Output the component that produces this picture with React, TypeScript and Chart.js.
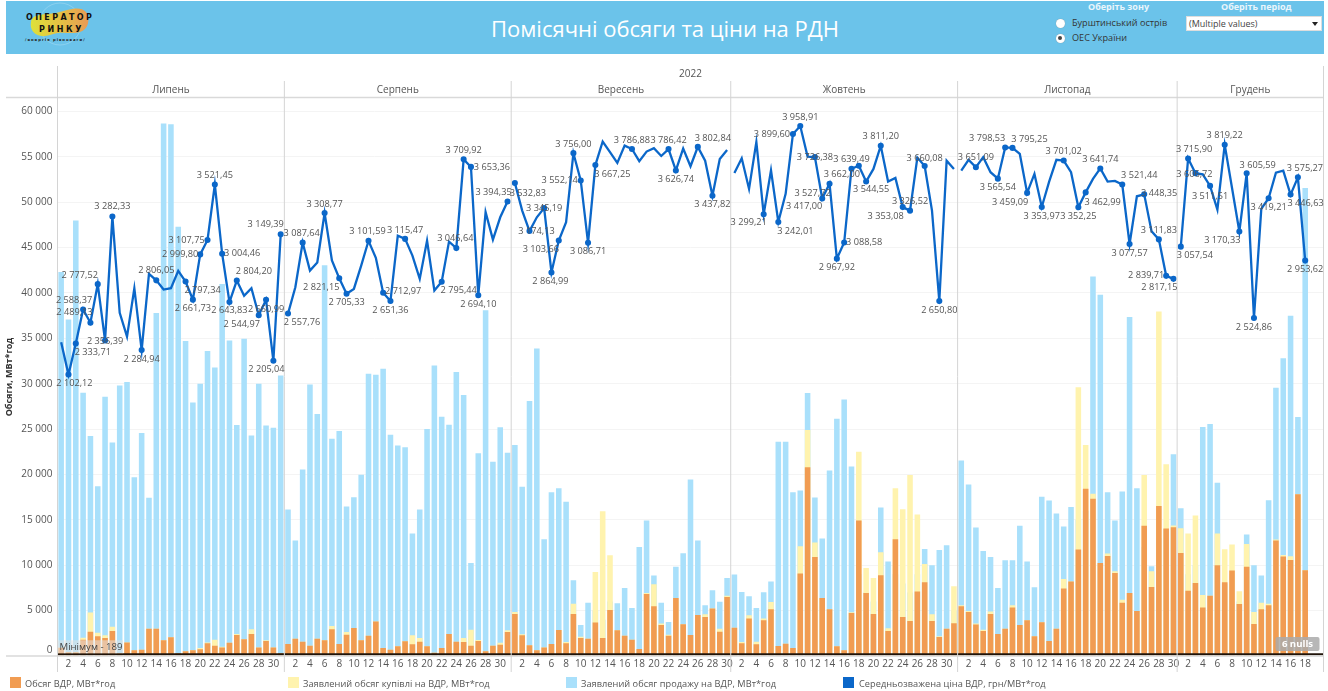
import React, { useEffect, useRef } from "react";
import { Chart, registerables } from "chart.js";

Chart.register(...registerables);

const TITLE = "Помісячні обсяги та ціни на РДН";
const YEAR = "2022";
const monthNames = ["Липень", "Серпень", "Вересень", "Жовтень", "Листопад", "Грудень"];
const monthSlots = [31, 31, 30, 31, 30, 20];
const yTicks = [0, 5000, 10000, 15000, 20000, 25000, 30000, 35000, 40000, 45000, 50000, 55000, 60000];

const seriesNames = [
  "Обсяг ВДР, МВт*год",
  "Заявлений обсяг купівлі на ВДР, МВт*год",
  "Заявлений обсяг продажу на ВДР, МВт*год",
  "Середньозважена ціна ВДР, грн/МВт*год",
];
const seriesColors = ["#F19C52", "#FFF3AE", "#A9E0FB", "#0B67C9"];

const volumeJul = [900, 400, 400, 1800, 2680, 2170, 1980, 2750, 300, 1500, 620, 700, 3000, 3000, 1730, 2060, 300, 510, 620, 730, 1400, 1140, 950, 1470, 2300, 1840, 2420, 950, 1650, 950, 300];
const volumeAug = [1320, 1900, 1580, 1140, 1900, 1730, 2940, 1320, 2350, 3090, 1730, 2240, 3790, 880, 700, 1070, 1620, 1290, 1580, 1070, 370, 880, 2430, 1580, 1540, 1140, 1650, 510, 1140, 1250, 2650];
const volumeSep = [4630, 2280, 1180, 625, 950, 1320, 2870, 1400, 4630, 1985, 1910, 3680, 1985, 5070, 2830, 2240, 1800, 770, 6840, 5480, 3420, 2240, 6400, 3490, 2320, 4520, 4300, 5220, 2680, 6500];
const volumeOct = [3125, 1400, 4120, 1290, 3930, 5150, 1100, 1360, 880, 9080, 20800, 10920, 6400, 5150, 1070, 625, 4740, 14930, 6950, 4630, 8900, 2760, 12870, 4300, 3860, 7100, 8125, 3860, 2100, 3015, 3600];
const volumeNov = [5480, 4850, 3460, 2760, 4630, 2430, 3015, 5330, 3420, 3930, 2170, 3710, 1650, 3015, 7430, 8200, 11730, 18420, 17320, 10260, 11030, 9150, 5880, 6950, 4960, 14340, 7610, 16540, 14040, 14190];
const volumeDec = [11360, 7200, 8050, 5330, 6650, 10000, 8125, 9410, 5735, 9820, 3530, 5150, 5590, 12720, 10960, 10590, 17830, 9450];

const buyJul = [900, 400, 400, 2000, 4780, 2570, 2280, 3230, 300, 1500, 620, 700, 3000, 3000, 1730, 2060, 300, 510, 620, 880, 1500, 1800, 1030, 1470, 2420, 1840, 2940, 950, 1730, 950, 300];
const buyAug = [1320, 1900, 1580, 1140, 1900, 1730, 3300, 1320, 2650, 3090, 1730, 2240, 3790, 880, 700, 1070, 1620, 2280, 1985, 1070, 370, 880, 2430, 1580, 1985, 2900, 1765, 510, 1140, 1470, 2830];
const buySep = [4850, 2390, 1180, 625, 950, 1320, 2870, 1545, 5770, 2130, 1910, 9260, 15955, 11100, 2830, 2240, 1800, 770, 6950, 7900, 3570, 2350, 6400, 3490, 2320, 4520, 4600, 5220, 3010, 6650];
const buyOct = [3125, 1545, 4490, 1580, 4120, 5960, 1100, 1360, 880, 12100, 24890, 12500, 6400, 5150, 1070, 625, 4820, 22500, 9700, 8600, 11430, 3050, 18490, 16180, 19930, 15590, 10150, 4600, 2170, 3015, 7680];
const buyNov = [5590, 4960, 3570, 2900, 4890, 2430, 3015, 5590, 3420, 3930, 2170, 3710, 1650, 3015, 8490, 8200, 29600, 23235, 17870, 10260, 11290, 9340, 6210, 6950, 4960, 19930, 9340, 37950, 21140, 14380];
const buyDec = [14080, 13490, 15480, 6730, 6650, 13490, 11760, 12280, 7130, 12350, 4850, 5880, 5770, 12830, 11140, 11000, 17830, 9450];

const sellJul = [42300, 37070, 47970, 29000, 24230, 18700, 28570, 23530, 29800, 30200, 19700, 24560, 17430, 37800, 58680, 58600, 47300, 34700, 27940, 30000, 33600, 31800, 41000, 34750, 25440, 34950, 24300, 30000, 25400, 25150, 30900];
const sellAug = [16140, 12720, 20550, 29900, 26650, 43050, 23930, 24780, 16470, 17500, 19960, 31100, 31000, 31650, 24375, 23200, 23000, 13490, 16140, 25000, 32000, 26360, 25480, 31300, 28750, 10260, 22350, 38100, 21400, 25200, 22400];
const sellSep = [23235, 18640, 28090, 33880, 12870, 18050, 18490, 16985, 8345, 3420, 5880, 5000, 4000, 6000, 5810, 7500, 5290, 12020, 14930, 8860, 5880, 3750, 9820, 11320, 19450, 12720, 5590, 7240, 5990, 8600];
const sellOct = [8970, 7060, 6580, 5290, 7020, 8200, 23600, 23600, 18050, 18235, 28970, 17460, 12940, 20440, 26140, 28270, 20880, 9000, 7000, 6000, 16360, 10400, 9000, 8000, 7000, 9000, 11800, 10000, 11690, 12200, 5000];
const sellNov = [21540, 18900, 14150, 11580, 10920, 7500, 10550, 10550, 14340, 10400, 7570, 17540, 17130, 15700, 14265, 16430, 15000, 16000, 41800, 39800, 18050, 14930, 18125, 37360, 18490, 12000, 9890, 13000, 14000, 22240];
const sellDec = [16290, 9000, 10000, 25220, 25550, 19080, 8000, 9000, 6000, 13380, 10000, 8860, 17170, 29550, 32800, 37500, 26320, 51560];

const priceJul = [2343.7, 2102.12, 2333.71, 2588.37, 2489.13, 2777.52, 2356.39, 3282.33, 2563, 2386, 2747, 2284.94, 2855, 2806.05, 2737, 2747, 2877, 2797.34, 2661.73, 2999.8, 3107.75, 3521.45, 3004.46, 2643.83, 2804.2, 2690, 2747, 2544.97, 2660.99, 2205.04, 3149.39];
const priceAug = [2557.76, 2754, 3087.64, 2879, 2939, 3308.77, 2954, 2821.15, 2705.33, 2742, 2916, 3101.59, 2974, 2712.97, 2651.36, 3140, 3115.47, 2991, 2817, 3103, 2730, 2795.44, 3095, 3046.64, 3709.92, 3653.36, 2694.1, 3315, 3110, 3277, 3394.35];
const priceSep = [3532.83, 3327, 3174.13, 3277, 3345.19, 2864.99, 3103.66, 3240, 3756, 3552.14, 3086.71, 3667.25, 3843, 3763, 3683, 3812, 3786.88, 3696, 3768, 3793, 3735, 3786.42, 3626.74, 3790, 3658, 3802.84, 3700, 3437.82, 3713, 3780];
const priceOct = [3608, 3718, 3489, 3840, 3299.21, 3628, 3242.01, 3452, 3899.6, 3958.91, 3730, 3726.38, 3417, 3527.72, 2967.92, 3088.58, 3639.49, 3662, 3544.55, 3638, 3811.2, 3544, 3571, 3353.08, 3326.52, 3723, 3660.08, 3327, 2650.8, 3700, 3638];
const priceNov = [3626, 3706, 3651.09, 3726, 3614, 3565.54, 3798.53, 3795.25, 3750, 3459.09, 3601, 3353.97, 3541, 3706, 3701.02, 3614, 3352.25, 3462.99, 3564, 3641.74, 3544, 3549, 3521.44, 3077.57, 3434, 3448.35, 3173, 3111.83, 2839.71, 2817.15];
const priceDec = [3057.54, 3715.9, 3606.72, 3598, 3511.51, 3334, 3819.22, 3496, 3170.33, 3605.59, 2524.86, 3340, 3419.21, 3611, 3626, 3446.63, 3575.27, 2953.62];

// Days whose price is labelled, with the label's offset from its point: [day, dx, dy]
const labelsJul = [[2, 6, 9], [3, 17, 9], [4, -9, -9], [5, -16, -10], [6, -18, -9], [7, 0, 1], [8, 0, -10], [12, 0, 9], [14, 0, -10], [18, 17, 9], [19, 0, 9], [20, -20, 0], [21, -21, 0], [22, 0, -9], [23, 20, 0], [24, 0, 8], [25, 17, -9], [28, -17, 9], [29, 0, 10], [30, -7, 9], [31, -15, -10]];
const labelsAug = [[1, 14, 9], [3, -1, -9], [6, 0, -9], [8, -18, 9], [9, 0, 9], [12, -1, -9], [14, 20, -1], [15, 0, 9], [17, 0, -9], [22, 17, 9], [24, -1, -10], [25, 0, -9], [26, 21, 0], [27, 0, 9], [31, -14, -9]];
const labelsSep = [[1, 13, 10], [3, 7, 0], [5, 0, 0], [6, -1, 9], [7, -18, 9], [9, 0, -9], [10, -21, 0], [11, 0, 9], [12, 17, 9], [17, 0, -9], [22, 0, -9], [23, 0, 9], [26, 15, -9], [28, 0, 9]];
const labelsOct = [[5, -15, 8], [7, 17, 9], [9, -21, 0], [10, 0, -9], [12, 0, 0], [13, -18, 8], [14, -17, 10], [15, 0, 9], [16, 20, 0], [17, 0, -9], [18, -17, 9], [19, 5, 8], [21, 0, -9], [24, -17, 9], [25, 0, -9], [27, 0, -8], [29, 0, 9]];
const labelsNov = [[3, 0, -10], [6, 0, 9], [7, -18, -9], [8, 17, -9], [10, -17, 9], [12, 0, 9], [15, 0, -9], [17, 0, 9], [18, 17, 10], [20, 0, -9], [23, 17, -9], [24, 0, 9], [26, 15, -1], [28, 0, -9], [29, -20, 0], [30, -14, 9]];
const labelsDec = [[1, 14, 9], [2, 6, -9], [3, -1, 1], [5, 0, 10], [7, 0, -9], [9, -17, 9], [10, 11, -8], [11, 0, 9], [13, 0, 9], [16, 15, 9], [17, 7, -9], [18, 0, 9]];

const MINIMUM_VALUE = 189;
const MINIMUM_TEXT = "Мінімум - 189";
const NULLS_TEXT = "6 nulls";

const FONT = "'Open Sans', sans-serif";

const monthStarts: number[] = [];
const days: string[] = [];
monthSlots.forEach((n, m) => {
  monthStarts[m] = days.length;
  for (let d = 1; d <= n; d++) {
    const shown = d % 2 === 0 && !(m === monthSlots.length - 1 && d > 18);
    days.push(shown ? String(d) : "");
  }
});
const labels = days.map((_, i) => `slot ${i}`);

const volume = [...volumeJul, ...volumeAug, ...volumeSep, ...volumeOct, ...volumeNov, ...volumeDec];
const buy = [...buyJul, ...buyAug, ...buySep, ...buyOct, ...buyNov, ...buyDec];
const sell = [...sellJul, ...sellAug, ...sellSep, ...sellOct, ...sellNov, ...sellDec];
const price = [...priceJul, ...priceAug, ...priceSep, ...priceOct, ...priceNov, ...priceDec];

const labelTable = new Map<number, number[]>();
[labelsJul, labelsAug, labelsSep, labelsOct, labelsNov, labelsDec].forEach((list, m) =>
  list.forEach(([day, dx, dy]) => labelTable.set(monthStarts[m] + day - 1, [dx, dy]))
);

const fmtThousands = (v: number) => String(v).replace(/\B(?=(\d{3})+$)/g, " ");
const fmtPrice = (v: number) => {
  const [a, b] = v.toFixed(2).split(".");
  return `${fmtThousands(Number(a))},${b}`;
};

const panelPlugin = {
  id: "panel",
  afterDraw(chart: any) {
    const { ctx, scales } = chart;
    const x = scales.x;
    const y = scales.y;
    const price = scales.price;
    const left = chart.chartArea.left;
    const right = chart.chartArea.right;
    const top = chart.chartArea.top;
    const bottom = chart.chartArea.bottom;
    const slot = (right - left) / labels.length;
    ctx.save();

    // minimum reference line
    const minY = y.getPixelForValue(MINIMUM_VALUE);
    ctx.strokeStyle = "#20140a";
    ctx.lineWidth = 2;
    ctx.beginPath();
    ctx.moveTo(left, minY);
    ctx.lineTo(right, minY);
    ctx.stroke();

    // axis / header rules
    ctx.strokeStyle = "#d9d9d9";
    ctx.lineWidth = 1.5;
    ctx.beginPath();
    ctx.moveTo(6, top - 0.5);
    ctx.lineTo(right, top - 0.5);
    ctx.moveTo(6, bottom);
    ctx.lineTo(right, bottom);
    ctx.stroke();

    ctx.lineWidth = 1;
    ctx.strokeStyle = "#d4d4d4";
    ctx.beginPath();
    ctx.moveTo(left, 66);
    ctx.lineTo(left, 672);
    ctx.moveTo(right, 66);
    ctx.lineTo(right, 672);
    monthStarts.slice(1).forEach((s) => {
      const px = x.getPixelForValue(s) - slot / 2;
      ctx.moveTo(px, 81);
      ctx.lineTo(px, 672);
    });
    ctx.stroke();

    // headers
    ctx.fillStyle = "#555";
    ctx.font = `10px ${FONT}`;
    ctx.textAlign = "center";
    ctx.textBaseline = "middle";
    ctx.fillText(YEAR, (left + right) / 2, 74);
    monthNames.forEach((name, m) => {
      const a = x.getPixelForValue(monthStarts[m]) - slot / 2;
      const b = a + monthSlots[m] * slot;
      ctx.fillText(name, (a + b) / 2, 90);
    });

    // price labels
    ctx.font = `9.2px ${FONT}`;
    ctx.fillStyle = "#555";
    labelTable.forEach(([dx, dy], i) => {
      const v = (chart.data.datasets[0].data as number[])[i];
      ctx.fillText(fmtPrice(v), x.getPixelForValue(i) + dx, price.getPixelForValue(v) + dy);
    });

    // minimum badge
    ctx.fillStyle = "rgba(225,225,225,0.55)";
    ctx.fillRect(left + 0.5, minY - 14, 65, 13);
    ctx.fillStyle = "#444";
    ctx.font = `9.6px ${FONT}`;
    ctx.textAlign = "left";
    ctx.fillText(MINIMUM_TEXT, left + 2, minY - 7);

    // nulls badge
    ctx.fillStyle = "rgba(170,170,170,0.85)";
    const bx = right - 48;
    const by = 637;
    ctx.beginPath();
    ctx.roundRect(bx, by, 44, 14, 2);
    ctx.fill();
    ctx.fillStyle = "#fff";
    ctx.font = `bold 9.6px ${FONT}`;
    ctx.textAlign = "center";
    ctx.fillText(NULLS_TEXT, bx + 22, by + 7.5);
    ctx.restore();
  },
};

function Logo() {
  return (
    <svg width={100} height={50} style={{ position: "absolute", left: 18, top: 2 }}>
      <defs>
        <linearGradient id="logoGrad" x1="0" x2="1" y1="0" y2="0">
          <stop offset="0" stopColor="#DDE13A" />
          <stop offset="0.55" stopColor="#E5BE45" />
          <stop offset="1" stopColor="#E89A55" />
        </linearGradient>
      </defs>
      <circle cx={42} cy={22} r={21} fill="none" stroke="#9ad6f0" strokeWidth={0.7} />
      <path d="M13 20 C14 11 28 13 38 11 C50 8 62 3 68 10 C73 17 70 28 62 30 C52 33 44 28 32 33 C20 37 11 30 13 20 Z" fill="url(#logoGrad)" />
      <text x={8} y={18} fontFamily="'DejaVu Sans', sans-serif" fontWeight={700} fontSize={8} letterSpacing={2.4} fill="#111">ОПЕРАТОР</text>
      <text x={21} y={30} fontFamily="'DejaVu Sans', sans-serif" fontWeight={700} fontSize={8} letterSpacing={2.6} fill="#111">РИНКУ</text>
      <text x={7} y={39} fontFamily="'DejaVu Sans', sans-serif" fontWeight={700} fontSize={3.8} letterSpacing={1} fill="#222">/енергія рівноваги/</text>
    </svg>
  );
}

const abs = (s: React.CSSProperties): React.CSSProperties => ({ position: "absolute", whiteSpace: "nowrap", fontFamily: FONT, ...s });

function Radio({ top, text, on }: { top: number; text: string; on: boolean }) {
  return (
    <>
      <div style={abs({ left: 1055.5, top: top - 4.5, width: 9, height: 9, borderRadius: "50%", background: "#fff", boxShadow: "0 0 1px #888" })} />
      {on && <div style={abs({ left: 1058, top: top - 2, width: 4, height: 4, borderRadius: "50%", background: "#444" })} />}
      <div style={abs({ left: 1072, top: top - 7, fontSize: 9.1, lineHeight: "14px", color: "#333" })}>{text}</div>
    </>
  );
}

const legendX = [[10, 25], [288, 303], [566, 581], [843, 859]];

export default function App() {
  const ref = useRef<HTMLCanvasElement>(null);
  useEffect(() => {
    document.body.style.margin = "0";
    document.body.style.background = "#fff";
    const chart = new Chart(ref.current!, {
      type: "bar",
      data: {
        labels,
        datasets: [
          {
            type: "line",
            label: seriesNames[3],
            data: price,
            yAxisID: "price",
            order: 0,
            borderColor: seriesColors[3],
            backgroundColor: seriesColors[3],
            borderWidth: 2.3,
            tension: 0,
            spanGaps: false,
            pointRadius: (c: any) => (labelTable.has(c.dataIndex) ? 1.9 : 0),
            pointHoverRadius: 0,
            segment: {
              borderColor: (c: any) => (monthStarts.includes(c.p1DataIndex) ? "transparent" : seriesColors[3]),
            },
          } as any,
          { label: seriesNames[0], data: volume, order: 1, backgroundColor: seriesColors[0], grouped: false, barPercentage: 0.76, categoryPercentage: 1 } as any,
          { label: seriesNames[1], data: buy, order: 2, backgroundColor: seriesColors[1], grouped: false, barPercentage: 0.76, categoryPercentage: 1 } as any,
          { label: seriesNames[2], data: sell, order: 3, backgroundColor: seriesColors[2], grouped: false, barPercentage: 0.76, categoryPercentage: 1 } as any,
        ],
      },
      options: {
        responsive: false,
        animation: false,
        layout: { padding: { left: 0, right: 4.5, top: 98, bottom: 0 } },
        plugins: { legend: { display: false }, tooltip: { enabled: false } },
        scales: {
          x: {
            type: "category",
            grid: { display: false, drawTicks: false, tickLength: 0 },
            border: { display: false },
            afterFit: (s: any) => { s.height = 35; },
            ticks: {
              autoSkip: false,
              maxRotation: 0,
              minRotation: 0,
              padding: 2,
              color: "#555",
              font: { family: FONT, size: 10 },
              callback: (_: any, i: number) => days[i],
            },
          },
          y: {
            min: 0,
            max: 61480,
            afterFit: (s: any) => { s.width = 57.5; },
            afterBuildTicks: (s: any) => { s.ticks = yTicks.map((value) => ({ value })); },
            grid: { color: "#f4f4f4", drawTicks: false },
            border: { display: false },
            title: {
              display: true,
              text: "Обсяги, МВт*год",
              color: "#333",
              font: { family: FONT, size: 9, weight: "bold" },
              padding: { top: 4, bottom: 0 },
            },
            ticks: {
              padding: 5,
              color: "#555",
              font: { family: FONT, size: 10 },
              callback: (v: any) => (v === 0 ? ["0", ""] : fmtThousands(Number(v))),
            },
          },
          price: {
            position: "right",
            display: false,
            min: 0,
            max: 4168,
            grid: { display: false },
          },
        },
      } as any,
      plugins: [panelPlugin],
    });
    return () => chart.destroy();
  }, []);

  return (
    <div style={{ position: "absolute", left: 0, top: 0, width: 1328, height: 691, overflow: "hidden", background: "#fff" }}>
      <div style={abs({ left: 6, top: 1, width: 1318, height: 53, background: "#6BC3EA" })} />
      <Logo />
      <div style={abs({ left: 6, width: 1318, top: 13, textAlign: "center", fontSize: 22, lineHeight: "30px", color: "#fff" })}>{TITLE}</div>

      <div style={abs({ left: 1088, top: 0, fontSize: 9, lineHeight: "13px", fontWeight: 700, color: "#EAF6FC" })}>Оберіть зону</div>
      <div style={abs({ left: 1221, top: 0, fontSize: 9, lineHeight: "13px", fontWeight: 700, color: "#EAF6FC" })}>Оберіть період</div>
      <Radio top={23} text="Бурштинський острів" on={false} />
      <Radio top={38} text="ОЕС України" on={true} />
      <div style={abs({ left: 1186, top: 16, width: 136, height: 15, background: "#fff", border: "0.5px solid #ddd", boxSizing: "border-box" })} />
      <div style={abs({ left: 1189, top: 16, fontSize: 9, lineHeight: "15px", color: "#444" })}>(Multiple values)</div>
      <div style={abs({ left: 1311.5, top: 22, width: 0, height: 0, borderLeft: "3px solid transparent", borderRight: "3px solid transparent", borderTop: "4px solid #222" })} />

      <canvas ref={ref} width={1328} height={691} style={{ position: "absolute", left: 0, top: 0, display: "block" }} />

      {seriesNames.map((name, i) => (
        <React.Fragment key={name}>
          <div style={abs({ left: legendX[i][0], top: 677, width: 11, height: 11, background: seriesColors[i] })} />
          <div style={abs({ left: legendX[i][1], top: 677, fontSize: 9.2, lineHeight: "14px", color: "#555", letterSpacing: 0.05 })}>{name}</div>
        </React.Fragment>
      ))}
    </div>
  );
}
